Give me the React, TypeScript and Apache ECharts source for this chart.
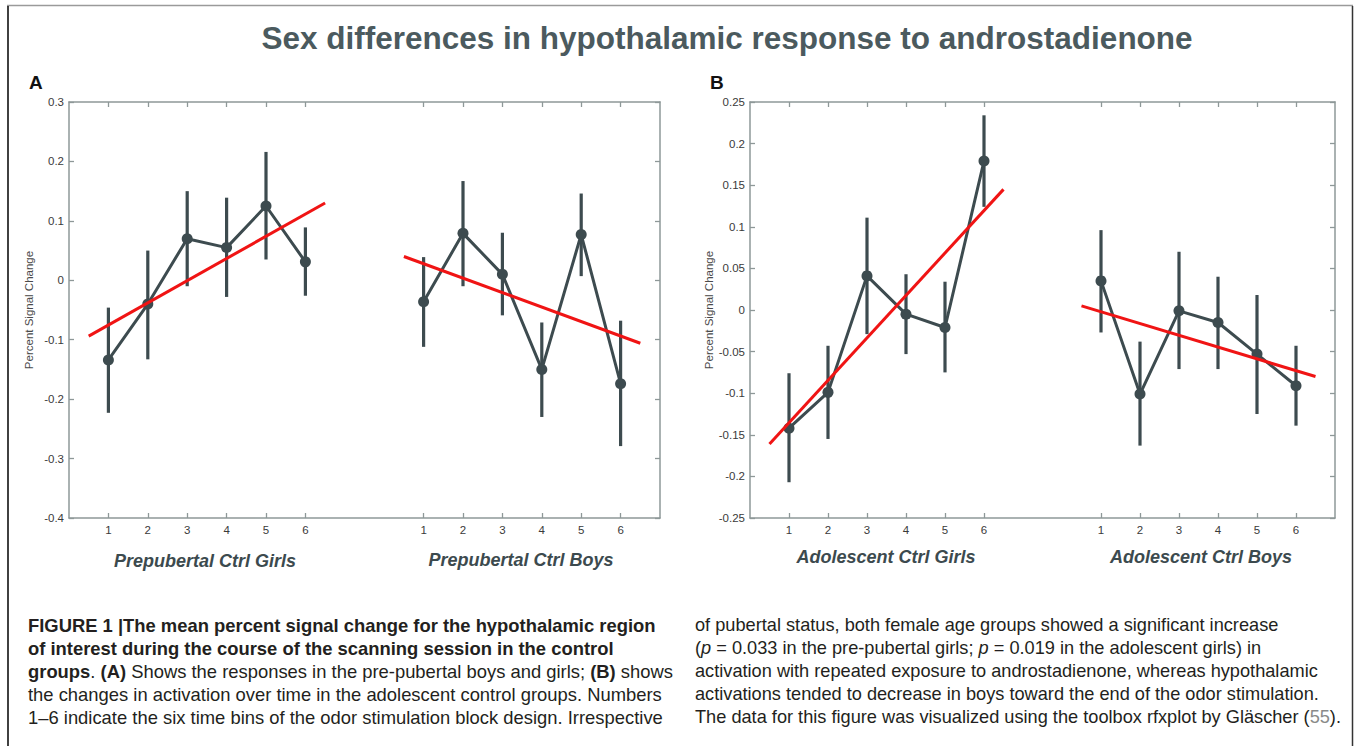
import React, { useEffect, useRef } from "react";
import * as echarts from "echarts";

// ---- data ----
const binLabels = ["1", "2", "3", "4", "5", "6"];
const girlsX = [1, 2, 3, 4, 5, 6];
const boysX = [9, 10, 11, 12, 13, 14];

// Panel A (prepubertal)
const aGirlsMean = [-0.134, -0.04, 0.07, 0.055, 0.125, 0.031];
const aGirlsLow = [-0.223, -0.133, -0.01, -0.028, 0.035, -0.026];
const aGirlsHigh = [-0.046, 0.05, 0.15, 0.139, 0.216, 0.089];
const aBoysMean = [-0.036, 0.079, 0.01, -0.15, 0.077, -0.174];
const aBoysLow = [-0.112, -0.01, -0.059, -0.23, 0.007, -0.279];
const aBoysHigh = [0.039, 0.167, 0.08, -0.071, 0.146, -0.068];
const aGirlsTrend = [[0.5, -0.094], [6.5, 0.13]];
const aBoysTrend = [[8.5, 0.04], [14.5, -0.106]];

// Panel B (adolescent)
const bGirlsMean = [-0.142, -0.099, 0.041, -0.005, -0.021, 0.179];
const bGirlsLow = [-0.207, -0.155, -0.029, -0.053, -0.075, 0.124];
const bGirlsHigh = [-0.076, -0.043, 0.111, 0.043, 0.034, 0.234];
const bBoysMean = [0.035, -0.101, -0.001, -0.015, -0.053, -0.091];
const bBoysLow = [-0.027, -0.163, -0.071, -0.071, -0.125, -0.139];
const bBoysHigh = [0.096, -0.038, 0.07, 0.04, 0.018, -0.043];
const bGirlsTrend = [[0.5, -0.161], [6.5, 0.145]];
const bBoysTrend = [[8.5, 0.005], [14.5, -0.08]];

const groupLabels = [
  "Prepubertal Ctrl Girls",
  "Prepubertal Ctrl Boys",
  "Adolescent Ctrl Girls",
  "Adolescent Ctrl Boys",
];

const DARK = "#3d4b4f";
const RED = "#f01414";
const AXIS = "#8e9898";
const FONT = '"Liberation Sans", Arial, Helvetica, sans-serif';

function tickLabel(v: number) {
  const i = girlsX.indexOf(v);
  if (i >= 0) return binLabels[i];
  const j = boysX.indexOf(v);
  return j >= 0 ? binLabels[j] : "";
}

const tickPositions = [...girlsX, ...boysX];

function xAxes(gridIndex: number) {
  const common = {
    type: "value",
    gridIndex,
    min: 0,
    max: 15,
    splitLine: { show: false },
    axisLine: { show: true, onZero: false, lineStyle: { color: AXIS, width: 1.5 } },
  };
  return [
    {
      ...common,
      position: "bottom",
      axisTick: { show: true, inside: true, length: 5, customValues: tickPositions, lineStyle: { color: AXIS, width: 1.3 } },
      axisLabel: {
        show: true,
        customValues: tickPositions,
        formatter: (v: number) => tickLabel(v),
        color: "#3a3a3a",
        fontSize: 11.5,
        fontFamily: FONT,
        margin: 6,
      },
    },
    {
      ...common,
      position: "top",
      axisTick: { show: true, inside: true, length: 5, customValues: tickPositions, lineStyle: { color: AXIS, width: 1.3 } },
      axisLabel: { show: false },
    },
  ];
}

function yAxes(gridIndex: number, min: number, max: number, interval: number) {
  const common = {
    type: "value",
    gridIndex,
    min,
    max,
    interval,
    splitLine: { show: false },
    axisLine: { show: true, onZero: false, lineStyle: { color: AXIS, width: 1.5 } },
    axisTick: { show: true, inside: true, length: 5, lineStyle: { color: AXIS, width: 1.3 } },
  };
  return [
    {
      ...common,
      position: "left",
      name: "Percent Signal Change",
      nameLocation: "middle",
      nameGap: 34,
      nameTextStyle: { color: "#4a4a4a", fontSize: 11.5, fontFamily: FONT },
      axisLabel: {
        color: "#3a3a3a",
        fontSize: 11.5,
        fontFamily: FONT,
        margin: 5,
        formatter: (v: number) => String(Math.round(v * 100) / 100),
      },
    },
    { ...common, position: "right", axisLabel: { show: false } },
  ];
}

function pairs(xs: number[], ys: number[]) {
  return xs.map((x, i) => [x, ys[i]]);
}

function errData(xs: number[], lo: number[], hi: number[]) {
  return xs.map((x, i) => [x, lo[i], hi[i]]);
}

function errSeries(data: number[][], xi: number, yi: number) {
  return {
    type: "custom",
    xAxisIndex: xi,
    yAxisIndex: yi,
    encode: { x: 0, y: [1, 2] },
    data,
    z: 2,
    renderItem: (_params: any, api: any) => {
      const x = api.value(0);
      const p1 = api.coord([x, api.value(1)]);
      const p2 = api.coord([x, api.value(2)]);
      return {
        type: "line",
        shape: { x1: p1[0], y1: p1[1], x2: p2[0], y2: p2[1] },
        style: { stroke: DARK, lineWidth: 3.2 },
      };
    },
  };
}

function meanSeries(data: number[][], xi: number, yi: number) {
  return {
    type: "line",
    xAxisIndex: xi,
    yAxisIndex: yi,
    data,
    z: 3,
    symbol: "circle",
    symbolSize: 11,
    itemStyle: { color: DARK },
    lineStyle: { color: DARK, width: 3 },
    silent: true,
  };
}

function trendSeries(data: number[][], xi: number, yi: number) {
  return {
    type: "line",
    xAxisIndex: xi,
    yAxisIndex: yi,
    data,
    z: 4,
    symbol: "none",
    lineStyle: { color: RED, width: 3 },
    silent: true,
  };
}

const capColor = "#231f20";
function makeRich(size: number) {
  const f = { fontFamily: FONT, fontSize: size };
  return {
    b: { ...f, fontWeight: "bold", fill: capColor },
    i: { ...f, fontStyle: "italic", fill: capColor },
    g: { ...f, fill: "#8a8a8a" },
  };
}

const leftCaption = [
  "{b|FIGURE 1 |The mean percent signal change for the hypothalamic region}",
  "{b|of interest during the course of the scanning session in the control}",
  "{b|groups}. {b|(A)} Shows the responses in the pre-pubertal boys and girls; {b|(B)} shows",
  "the changes in activation over time in the adolescent control groups. Numbers",
  "1–6 indicate the six time bins of the odor stimulation block design. Irrespective",
];
const rightCaption = [
  "of pubertal status, both female age groups showed a significant increase",
  "({i|p} = 0.033 in the pre-pubertal girls; {i|p} = 0.019 in the adolescent girls) in",
  "activation with repeated exposure to androstadienone, whereas hypothalamic",
  "activations tended to decrease in boys toward the end of the odor stimulation.",
  "The data for this figure was visualized using the toolbox rfxplot by Gläscher ({g|55}).",
];

function captionElements(lines: string[], x: number, size: number) {
  const rich = makeRich(size);
  return lines.map((t, k) => ({
    type: "text",
    x,
    y: 625 + k * 23,
    style: {
      text: t,
      rich,
      fill: capColor,
      fontFamily: FONT,
      fontSize: size,
      textAlign: "left",
      textVerticalAlign: "middle",
    },
  }));
}

export default function App() {
  const ref = useRef<HTMLDivElement>(null);
  useEffect(() => {
    document.body.style.margin = "0";
    if (!ref.current) return;
    const chart = echarts.init(ref.current, undefined, { renderer: "svg" });
    const option: any = {
      animation: false,
      backgroundColor: "#ffffff",
      grid: [
        { left: 69, top: 102, width: 591, height: 416 },
        { left: 750, top: 102, width: 585, height: 416 },
      ],
      xAxis: [...xAxes(0), ...xAxes(1)],
      yAxis: [...yAxes(0, -0.4, 0.3, 0.1), ...yAxes(1, -0.25, 0.25, 0.05)],
      series: [
        errSeries(errData(girlsX, aGirlsLow, aGirlsHigh), 0, 0),
        errSeries(errData(boysX, aBoysLow, aBoysHigh), 0, 0),
        meanSeries(pairs(girlsX, aGirlsMean), 0, 0),
        meanSeries(pairs(boysX, aBoysMean), 0, 0),
        trendSeries(aGirlsTrend, 0, 0),
        trendSeries(aBoysTrend, 0, 0),
        errSeries(errData(girlsX, bGirlsLow, bGirlsHigh), 2, 2),
        errSeries(errData(boysX, bBoysLow, bBoysHigh), 2, 2),
        meanSeries(pairs(girlsX, bGirlsMean), 2, 2),
        meanSeries(pairs(boysX, bBoysMean), 2, 2),
        trendSeries(bGirlsTrend, 2, 2),
        trendSeries(bBoysTrend, 2, 2),
      ],
      graphic: {
        elements: [
          { type: "line", shape: { x1: 7, y1: 5.5, x2: 1353, y2: 5.5 }, style: { stroke: "#9a9a9a", lineWidth: 1.3 } },
          { type: "line", shape: { x1: 8, y1: 6, x2: 8, y2: 746 }, style: { stroke: "#111111", lineWidth: 1.6 } },
          { type: "line", shape: { x1: 1352.5, y1: 6, x2: 1352.5, y2: 746 }, style: { stroke: "#333333", lineWidth: 1.5 } },
          {
            type: "text",
            x: 727,
            y: 38,
            style: {
              text: "Sex differences in hypothalamic response to androstadienone",
              fill: "#4b5a5e",
              fontFamily: FONT,
              fontSize: 31.5,
              fontWeight: "bold",
              textAlign: "center",
              textVerticalAlign: "middle",
            },
          },
          {
            type: "text",
            x: 29,
            y: 82,
            style: { text: "A", fill: "#111", fontFamily: FONT, fontSize: 19, fontWeight: "bold", textAlign: "left", textVerticalAlign: "middle" },
          },
          {
            type: "text",
            x: 710,
            y: 82,
            style: { text: "B", fill: "#111", fontFamily: FONT, fontSize: 19, fontWeight: "bold", textAlign: "left", textVerticalAlign: "middle" },
          },
          ...[
            [205, 561],
            [521, 560],
            [886, 557],
            [1201, 557],
          ].map((p, k) => ({
            type: "text",
            x: p[0],
            y: p[1],
            style: {
              text: groupLabels[k],
              fill: "#3c4a4e",
              fontFamily: FONT,
              fontSize: 18,
              fontWeight: "bold",
              fontStyle: "italic",
              textAlign: "center",
              textVerticalAlign: "middle",
            },
          })),
          ...captionElements(leftCaption, 28, 18.4),
          ...captionElements(rightCaption, 695, 18.2),
        ],
      },
    };
    chart.setOption(option);
    return () => chart.dispose();
  }, []);
  return <div ref={ref} style={{ width: 1356, height: 746 }} />;
}
